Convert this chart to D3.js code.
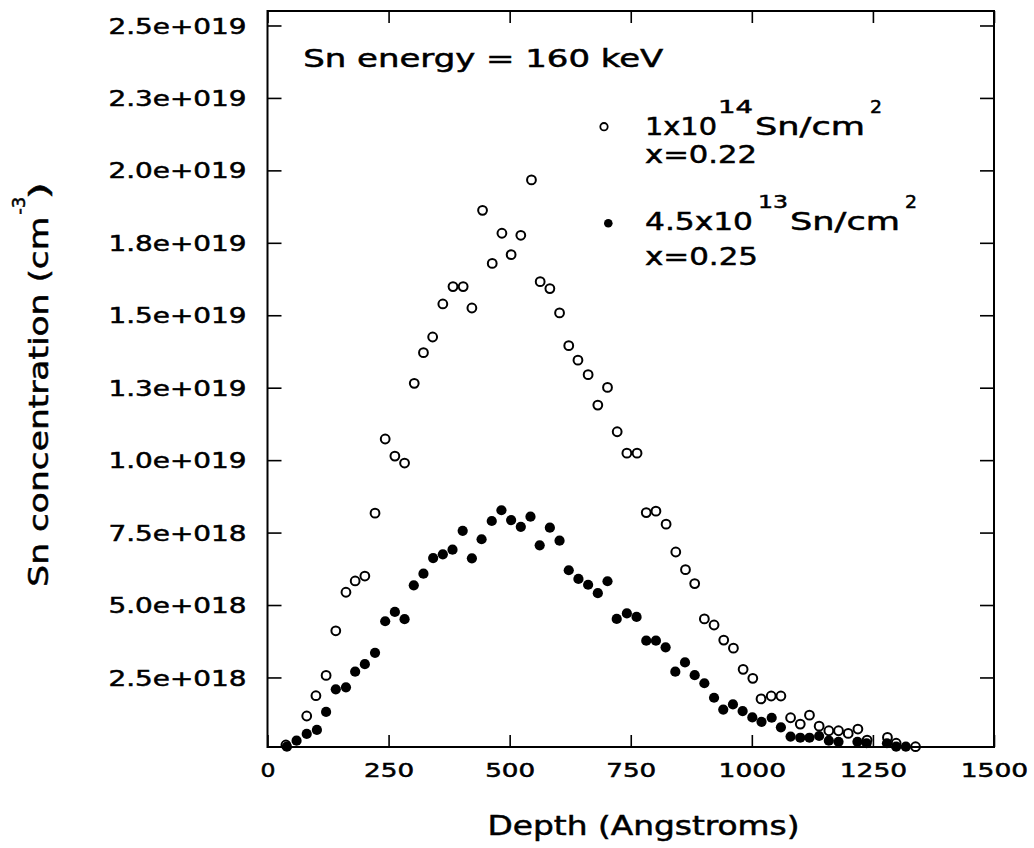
<!DOCTYPE html>
<html>
<head>
<meta charset="utf-8">
<title>Sn depth profile</title>
<script src="https://d3js.org/d3.v7.min.js"></script>
<style>
  body { margin: 0; background: #fff; }
  svg text { font-family: "DejaVu Sans", sans-serif; fill: #000; stroke: #000; stroke-width: 0.5px; }
</style>
</head>
<body>
<script>
// concentrations are in units of 1e18 cm^-3
var depthOpen = [38, 81, 100, 121, 141, 162, 181, 201, 222, 243, 263, 283, 303, 322, 341, 362, 383, 404, 422, 444,
  464, 484, 503, 523, 545, 563, 583, 603, 622, 641, 662, 682, 702, 722, 742, 763, 782, 802, 823, 843,
  863, 882, 902, 922, 942, 962, 982, 1002, 1019, 1040, 1060, 1080, 1100, 1119, 1139, 1159, 1179, 1199, 1219, 1238,
  1280, 1298, 1338];
var concOpen = [0.17, 1.17, 1.87, 2.57, 4.11, 5.44, 5.83, 6.00, 8.17, 10.73, 10.14, 9.90, 12.65, 13.71, 14.25, 15.39, 15.99, 15.99, 15.25, 18.62,
  16.79, 17.83, 17.09, 17.76, 19.67, 16.16, 15.92, 15.08, 13.95, 13.45, 12.95, 11.90, 12.51, 10.98, 10.24, 10.24, 8.19, 8.24, 7.79, 6.83,
  6.22, 5.74, 4.52, 4.31, 3.79, 3.51, 2.78, 2.47, 1.76, 1.86, 1.86, 1.11, 0.89, 1.20, 0.82, 0.66, 0.66, 0.57, 0.72, 0.34,
  0.43, 0.23, 0.11];

var depthFilled = [40, 60, 81, 102, 121, 141, 162, 181, 201, 222, 243, 263, 283, 302, 322, 342, 362, 382, 403, 422,
  442, 463, 483, 503, 523, 543, 562, 583, 603, 622, 642, 662, 682, 702, 721, 742, 762, 782, 802, 822,
  842, 862, 882, 902, 922, 941, 961, 981, 1001, 1020, 1041, 1060, 1080, 1100, 1119, 1139, 1159, 1179, 1218, 1237,
  1279, 1298, 1318];
var concFilled = [0.11, 0.32, 0.55, 0.69, 1.31, 2.09, 2.16, 2.70, 2.96, 3.35, 4.44, 4.76, 4.51, 5.68, 6.08, 6.62, 6.75, 6.91, 7.56, 6.61,
  7.27, 7.90, 8.27, 7.93, 7.70, 8.05, 7.06, 7.67, 7.22, 6.20, 5.90, 5.70, 5.41, 5.82, 4.52, 4.71, 4.59, 3.77, 3.77, 3.54,
  2.70, 3.02, 2.58, 2.30, 1.80, 1.39, 1.57, 1.34, 1.12, 0.97, 1.11, 0.78, 0.46, 0.42, 0.42, 0.48, 0.32, 0.28, 0.28, 0.23,
  0.23, 0.11, 0.11];

var xTickValues = [0, 250, 500, 750, 1000, 1250, 1500];
var xTickLabels = ['0', '250', '500', '750', '1000', '1250', '1500'];
var yTickValues = [2.5, 5, 7.5, 10, 12.5, 15, 17.5, 20, 22.5, 25];
var yTickLabels = ['2.5e+018', '5.0e+018', '7.5e+018', '1.0e+019', '1.3e+019',
  '1.5e+019', '1.8e+019', '2.0e+019', '2.3e+019', '2.5e+019'];

var legendDose = ['1x10', '4.5x10'];
var legendExp = ['14', '13'];
var legendComp = ['x=0.22', 'x=0.25'];

var W = 1034, H = 848;
var plotLeft = 267.5, plotRight = 994, plotTop = 11, plotBottom = 747;

var svg = d3.select('body').append('svg')
  .attr('width', W)
  .attr('height', H);

svg.append('rect').attr('width', W).attr('height', H).attr('fill', '#fff');

var x = d3.scaleLinear().domain([0, 1500]).range([plotLeft, plotRight]);
var y = d3.scaleLinear().domain([0.1, 25.5]).range([plotBottom, plotTop]);

// stretch a text to the width it has in the picture
function fit(sel, w) {
  sel.attr('textLength', w).attr('lengthAdjust', 'spacingAndGlyphs');
}

// axes, ticks point inward on all four sides
var gLeft = svg.append('g')
  .attr('transform', 'translate(' + plotLeft + ',0)')
  .call(d3.axisLeft(y).tickValues(yTickValues).tickSizeInner(-14).tickSizeOuter(0)
    .tickPadding(21).tickFormat(function(d, i) { return yTickLabels[i]; }));
gLeft.attr('font-size', 21);
gLeft.selectAll('text').attr('dy', '0.36em').call(fit, 138);

var gBottom = svg.append('g')
  .attr('transform', 'translate(0,' + plotBottom + ')')
  .call(d3.axisBottom(x).tickValues(xTickValues).tickSizeInner(-12).tickSizeOuter(0)
    .tickFormat(function(d, i) { return xTickLabels[i]; }));
gBottom.attr('font-size', 19.5);
gBottom.selectAll('text')
  .attr('y', 29.7).attr('dy', null)
  .each(function(d, i) { d3.select(this).call(fit, 17.5 * xTickLabels[i].length - 2.5); });

svg.append('g')
  .attr('transform', 'translate(0,' + plotTop + ')')
  .call(d3.axisTop(x).tickValues(xTickValues).tickSizeInner(-12).tickSizeOuter(0).tickFormat(''));
svg.append('g')
  .attr('transform', 'translate(' + plotRight + ',0)')
  .call(d3.axisRight(y).tickValues(yTickValues).tickSizeInner(-14).tickSizeOuter(0).tickFormat(''));

svg.selectAll('.domain').remove();
svg.selectAll('.tick line').attr('stroke', '#000').attr('stroke-width', 1.6);

svg.append('rect')
  .attr('x', plotLeft).attr('y', plotTop)
  .attr('width', plotRight - plotLeft).attr('height', plotBottom - plotTop)
  .attr('fill', 'none').attr('stroke', '#000').attr('stroke-width', 2);

// data
var openPts = depthOpen.map(function(d, i) { return { depth: d, conc: concOpen[i] }; });
var filledPts = depthFilled.map(function(d, i) { return { depth: d, conc: concFilled[i] }; });

svg.append('g').selectAll('circle')
  .data(openPts)
  .enter().append('circle')
    .attr('cx', function(d) { return x(d.depth); })
    .attr('cy', function(d) { return y(d.conc); })
    .attr('r', 4.4)
    .attr('fill', 'none')
    .attr('stroke', '#000')
    .attr('stroke-width', 2);

svg.append('g').selectAll('circle')
  .data(filledPts)
  .enter().append('circle')
    .attr('cx', function(d) { return x(d.depth); })
    .attr('cy', function(d) { return y(d.conc); })
    .attr('r', 5.1)
    .attr('fill', '#000');

// annotation
svg.append('text')
  .attr('x', 303.3).attr('y', 66.7)
  .attr('font-size', 24)
  .text('Sn energy = 160 keV')
  .call(fit, 360);

// legend
var legendRows = [
  { base: 135, sub: 163.3, markX: 604, markY: 126.7, open: true, doseW: 72, expX: 718, expW: 35, unitX: 755, sqX: 870, compW: 112 },
  { base: 230, sub: 265, markX: 608.3, markY: 223.3, open: false, doseW: 108, expX: 758, expW: 30, unitX: 790, sqX: 905, compW: 113 }
];

legendRows.forEach(function(r, i) {
  var g = svg.append('g');
  if (r.open) {
    g.append('circle').attr('cx', r.markX).attr('cy', r.markY).attr('r', 3.7)
      .attr('fill', 'none').attr('stroke', '#000').attr('stroke-width', 1.8);
  } else {
    g.append('circle').attr('cx', r.markX).attr('cy', r.markY).attr('r', 4.3).attr('fill', '#000');
  }
  g.append('text').attr('x', 645).attr('y', r.base).attr('font-size', 25)
    .text(legendDose[i]).call(fit, r.doseW);
  g.append('text').attr('x', r.expX).attr('y', r.base - 21.7).attr('font-size', 18)
    .text(legendExp[i]).call(fit, r.expW);
  g.append('text').attr('x', r.unitX).attr('y', r.base).attr('font-size', 25)
    .text('Sn/cm').call(fit, 110);
  g.append('text').attr('x', r.sqX).attr('y', r.base - 21.7).attr('font-size', 18)
    .text('2').call(fit, 12);
  g.append('text').attr('x', 645).attr('y', r.sub).attr('font-size', 25)
    .text(legendComp[i]).call(fit, r.compW);
});

// axis titles
svg.append('text')
  .attr('x', 487.5).attr('y', 835)
  .attr('font-size', 26)
  .text('Depth (Angstroms)')
  .call(fit, 312);

var yTitle = svg.append('g').attr('transform', 'translate(48.3,586.7) rotate(-90)');
yTitle.append('text').attr('x', 0).attr('y', 0).attr('font-size', 27)
  .text('Sn concentration (cm').call(fit, 370);
yTitle.append('text').attr('x', 372).attr('y', -23).attr('font-size', 18)
  .text('-3').call(fit, 18);
yTitle.append('text').attr('x', 387).attr('y', 0).attr('font-size', 27)
  .text(')').call(fit, 18);
</script>
</body>
</html>
